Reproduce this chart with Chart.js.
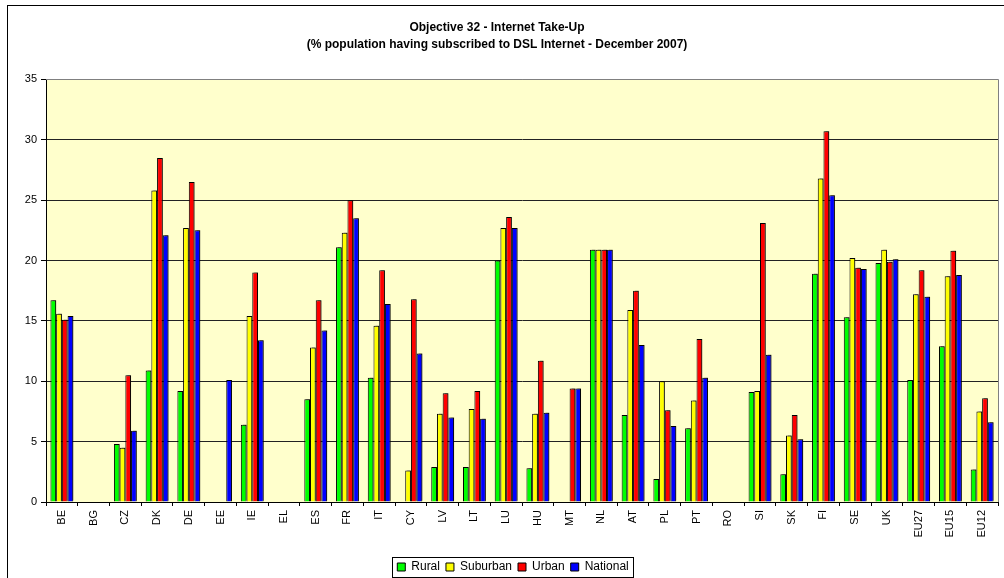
<!DOCTYPE html>
<html>
<head>
<meta charset="utf-8">
<script src="https://cdn.jsdelivr.net/npm/chart.js@4"></script>
<style>
  html, body { margin: 0; padding: 0; background: #fff; }
  #wrap { width: 1004px; height: 578px; position: relative; }
</style>
</head>
<body>
<div id="wrap"><canvas id="grafico"></canvas></div>
<script>
// datos
const paises = ['BE','BG','CZ','DK','DE','EE','IE','EL','ES','FR','IT','CY','LV','LT','LU',
  'HU','MT','NL','AT','PL','PT','RO','SI','SK','FI','SE','UK','EU27','EU15','EU12'];

const rural    = [16.7, null, 4.8, 10.9, 9.2, null, 6.4, null, 8.5, 21.1, 10.3, null, 2.9, 2.9, 20.0,
  2.8, null, 20.9, 7.2, 1.9, 6.1, null, 9.1, 2.3, 18.9, 15.3, 19.8, 10.1, 12.9, 2.7];
const suburban = [15.6, null, 4.5, 25.8, 22.7, null, 15.4, null, 12.8, 22.3, 14.6, 2.6, 7.3, 7.7, 22.7,
  7.3, null, 20.9, 15.9, 10.0, 8.4, null, 9.2, 5.5, 26.8, 20.2, 20.9, 17.2, 18.7, 7.5];
const urban    = [15.1, null, 10.5, 28.5, 26.5, null, 19.0, null, 16.7, 25.0, 19.2, 16.8, 9.0, 9.2, 23.6,
  11.7, 9.4, 20.9, 17.5, 7.6, 13.5, null, 23.1, 7.2, 30.7, 19.4, 19.9, 19.2, 20.8, 8.6];
const national = [15.4, null, 5.9, 22.1, 22.5, 10.1, 13.4, null, 14.2, 23.5, 16.4, 12.3, 7.0, 6.9, 22.7,
  7.4, 9.4, 20.9, 13.0, 6.3, 10.3, null, 12.2, 5.2, 25.4, 19.3, 20.1, 17.0, 18.8, 6.6];

const titulo = ['Objective 32 - Internet Take-Up',
  '(% population having subscribed to DSL Internet - December 2007)'];

Chart.defaults.font.family = 'Arial, "Liberation Sans", sans-serif';
Chart.defaults.color = '#000';

const ALTO_LEYENDA = 26;
const DESPL_TITULO = -6;
const DESPL_LEYENDA = 10;
const BAJAR_LEYENDA = 3;

// ajustes de la leyenda y del titulo (una sola vez)
const ajustes = {
  id: 'ajustes',
  beforeLayout(chart) {
    const ley = chart.legend;
    if (ley && !ley._ajustada) {
      ley._ajustada = true;
      const fitOrig = ley.fit;
      ley.fit = function () { fitOrig.call(this); this.height = ALTO_LEYENDA; };
      const drawOrig = ley.draw;
      ley.draw = function () {
        this.ctx.save();
        this.ctx.translate(DESPL_LEYENDA, BAJAR_LEYENDA);
        drawOrig.call(this);
        this.ctx.restore();
      };
    }
    const tit = chart.titleBlock;
    if (tit && !tit._ajustado) {
      tit._ajustado = true;
      const drawOrig = tit.draw;
      tit.draw = function () {
        this.ctx.save();
        this.ctx.translate(DESPL_TITULO, 0);
        drawOrig.call(this);
        this.ctx.restore();
      };
    }
  }
};

// fondo amarillo, marco exterior y borde gris del area
const marco = {
  id: 'marco',
  beforeDraw(chart) {
    const ctx = chart.ctx, a = chart.chartArea;
    ctx.save();
    ctx.fillStyle = '#fff';
    ctx.fillRect(0, 0, chart.width, chart.height);
    ctx.strokeStyle = '#000';
    ctx.lineWidth = 1;
    ctx.strokeRect(7.5, 5.5, 1200, 800);
    ctx.fillStyle = '#FFFFCC';
    ctx.fillRect(a.left, a.top, a.right - a.left, a.bottom - a.top);
    ctx.restore();
  },
  afterDraw(chart) {
    const ctx = chart.ctx, a = chart.chartArea;
    ctx.save();
    ctx.strokeStyle = '#808080';
    ctx.lineWidth = 1;
    ctx.beginPath();
    ctx.moveTo(a.left, Math.round(a.top) + 0.5);
    ctx.lineTo(Math.round(a.right) + 0.5, Math.round(a.top) + 0.5);
    ctx.lineTo(Math.round(a.right) + 0.5, a.bottom);
    ctx.stroke();
    // recuadro de la leyenda
    const cajas = chart.legend.legendHitBoxes;
    if (cajas && cajas.length) {
      const ult = cajas[cajas.length - 1];
      const x0 = cajas[0].left - 5 + DESPL_LEYENDA;
      const x1 = ult.left + ult.width + 5 + DESPL_LEYENDA;
      const y0 = cajas[0].top - 4 + BAJAR_LEYENDA;
      const y1 = cajas[0].top + cajas[0].height + 4 + BAJAR_LEYENDA;
      ctx.strokeStyle = '#000';
      ctx.strokeRect(Math.round(x0) + 0.5, Math.round(y0) + 0.5, Math.round(x1 - x0), Math.round(y1 - y0));
    }
    ctx.restore();
  }
};

// sombra de las barras
const sombra = {
  id: 'sombra',
  beforeDatasetsDraw(chart) {
    const ctx = chart.ctx;
    ctx.save();
    ctx.shadowColor = 'rgba(0,0,0,0.45)';
    ctx.shadowOffsetX = 2;
    ctx.shadowOffsetY = -1;
    ctx.shadowBlur = 0;
  },
  afterDatasetsDraw(chart) {
    chart.ctx.restore();
  }
};

function serie(nombre, datos, color) {
  return {
    label: nombre,
    data: datos,
    backgroundColor: color,
    borderColor: '#000',
    borderWidth: 1,
    categoryPercentage: 0.72,
    barPercentage: 1.0
  };
}

const grafico = new Chart(document.getElementById('grafico'), {
  type: 'bar',
  data: {
    labels: paises,
    datasets: [
      serie('Rural', rural, '#00FF00'),
      serie('Suburban', suburban, '#FFFF00'),
      serie('Urban', urban, '#FF0000'),
      serie('National', national, '#0000FF')
    ]
  },
  options: {
    responsive: true,
    maintainAspectRatio: false,
    animation: false,
    layout: { padding: { left: 8, right: 6, top: 12, bottom: 0 } },
    plugins: {
      title: {
        display: true,
        text: titulo,
        color: '#000',
        font: { size: 12, weight: 'bold', lineHeight: 1.35 },
        padding: { top: 8, bottom: 27 }
      },
      legend: {
        position: 'bottom',
        labels: {
          boxWidth: 8,
          boxHeight: 8,
          padding: 6,
          color: '#000',
          font: { size: 12 },
          useBorderRadius: false
        }
      },
      tooltip: { enabled: false }
    },
    scales: {
      x: {
        grid: {
          display: true,
          drawOnChartArea: false,
          offset: true,
          tickLength: 4,
          color: '#000'
        },
        border: { color: '#000' },
        ticks: {
          autoSkip: false,
          maxRotation: 90,
          minRotation: 90,
          padding: 4,
          font: { size: 11 },
          color: '#000'
        },
        afterFit(s) { s.height = 50; }
      },
      y: {
        min: 0,
        max: 35,
        ticks: { stepSize: 5, padding: 4, font: { size: 11 }, color: '#000' },
        grid: {
          color: c => (c.tick && c.tick.value === 35) ? '#808080' : '#222',
          tickColor: '#000',
          tickLength: 5
        },
        border: { color: '#000' },
        afterFit(s) { s.width = 38; }
      }
    }
  },
  plugins: [ajustes, marco, sombra]
});
</script>
</body>
</html>
